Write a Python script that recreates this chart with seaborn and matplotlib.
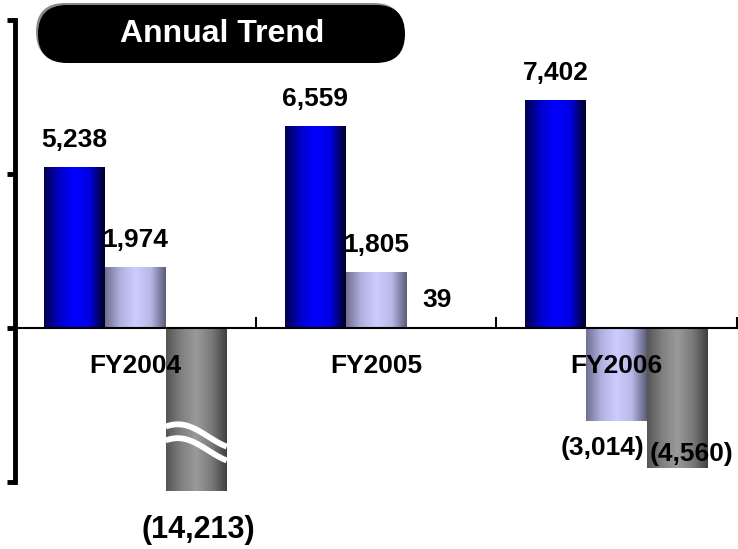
import numpy as np
import pandas as pd
import matplotlib
matplotlib.use("Agg")
import matplotlib.pyplot as plt
import matplotlib.transforms as mtransforms
import seaborn as sns
from matplotlib.patches import FancyBboxPatch
from matplotlib.colors import LinearSegmentedColormap

# data
years = ["FY2004", "FY2005", "FY2006"]
series = ["Series 1", "Series 2", "Series 3"]
values_1 = [5238, 6559, 7402]
values_2 = [1974, 1805, -3014]
values_3 = [-14213, 39, -4560]

BREAK_AT = -5300  # longer bars are drawn cut with a wave mark

# horizontal "cylinder" shading for each series
shades = [
    ["#00004a", "#0000c8", "#0000ff", "#0000e0", "#000020"],
    ["#707090", "#b0b0e0", "#ccccff", "#b8b8e8", "#5c5c78"],
    ["#555555", "#808080", "#9a9a9a", "#7a7a7a", "#404040"],
]

# label nudges in pixels (dx, dy) for the crowded ones
nudges = {(0, 2): (2, -4), (2, 1): (-14, 5), (2, 2): (14, 46)}
big_label = {(0, 2): 22}

sns.set_theme(style="white")
plt.rcParams["font.family"] = ["Liberation Sans", "DejaVu Sans"]

df = pd.DataFrame({
    "year": years * 3,
    "series": np.repeat(series, 3),
    "value": values_1 + values_2 + values_3,
})
df["shown"] = df["value"].clip(lower=BREAK_AT)

W, H = 738, 549
fig = plt.figure(figsize=(W / 100, H / 100), dpi=100)
px = mtransforms.Affine2D().scale(1 / W, 1 / H) + fig.transFigure
ax = fig.add_axes([15 / W, 67 / H, 722 / W, 462 / H])

sns.barplot(data=df, x="year", y="shown", hue="series", order=years,
            hue_order=series, width=0.76, dodge=True, legend=False,
            saturation=1, ax=ax)

# bars sorted left to right -> (group, series)
bars = sorted([p for p in ax.patches if p.get_width() > 0], key=lambda p: p.get_x())
grad = np.linspace(0, 1, 256).reshape(1, -1)
for i, bar in enumerate(bars):
    g, s = divmod(i, 3)
    x0, w = bar.get_x(), bar.get_width()
    y0, h = bar.get_y(), bar.get_height()
    cmap = LinearSegmentedColormap.from_list(f"c{s}", shades[s])
    im = ax.imshow(grad, cmap=cmap, extent=[x0, x0 + w, y0, y0 + h],
                   aspect="auto", zorder=2, interpolation="bilinear")
    im.set_clip_path(bar)
    bar.set_visible(False)

    val = df[(df["year"] == years[g]) & (df["series"] == series[s])]["value"].iloc[0]
    dx, dy = nudges.get((g, s), (0, 0))
    if val >= 0:
        txt, va, off = f"{val:,}", "baseline", 20
    else:
        txt, va, off = f"({abs(val):,})", "top", -20
    ax.annotate(txt, (x0 + w / 2, y0 + h), xytext=(dx, off + dy),
                textcoords="offset pixels", ha="center", va=va,
                fontsize=big_label.get((g, s), 19), fontweight="bold",
                color="black", zorder=5, annotation_clip=False)

    if val < BREAK_AT:
        # wave break on the cut bar
        t = np.linspace(0, 1, 60)
        xs = x0 + t * w
        for top in (-3200, -3650):
            ys = top - 650 * (0.5 - 0.5 * np.cos(np.pi * t)) + 230 * np.sin(np.pi * t)
            ax.plot(xs, ys, color="white", lw=4.2, zorder=3,
                    solid_capstyle="butt", clip_on=False)

for g, year in enumerate(years):
    ax.text(g, -1250, year, ha="center", va="center", fontsize=19,
            fontweight="bold", color="black", zorder=6)

ax.set_xlim(-0.5, 2.5)
ax.set_ylim(-5000, 10000)
ax.set_xlabel("")
ax.set_ylabel("")

sns.despine(ax=ax, top=True, right=True)
ax.spines["left"].set_linewidth(3.5)
ax.spines["left"].set_color("black")
ax.spines["bottom"].set_position(("data", 0))
ax.spines["bottom"].set_linewidth(1.5)
ax.spines["bottom"].set_color("black")
ax.spines["bottom"].set_zorder(4)

ax.set_yticks([-5000, 0, 5000, 10000])
ax.set_yticklabels([])
ax.tick_params(axis="y", direction="out", length=6, width=3.5, color="black", left=True)
ax.set_xticks([0.5, 1.5, 2.5])
ax.set_xticklabels([])
ax.tick_params(axis="x", direction="in", length=8, width=1.5, color="black", bottom=True)

# title pill
shadow = FancyBboxPatch((36, 488), 367, 58,
                        boxstyle="round,pad=0,rounding_size=29",
                        transform=px, facecolor="#8a8a8a", edgecolor="none")
pill = FancyBboxPatch((38, 486), 367, 58,
                      boxstyle="round,pad=0,rounding_size=29",
                      transform=px, facecolor="black", edgecolor="none")
fig.add_artist(shadow)
fig.add_artist(pill)
fig.text(222 / W, 515 / H, "Annual Trend", ha="center", va="center",
         fontsize=23, fontweight="bold", color="white")

fig.savefig("out.png", dpi=100, facecolor="white")
